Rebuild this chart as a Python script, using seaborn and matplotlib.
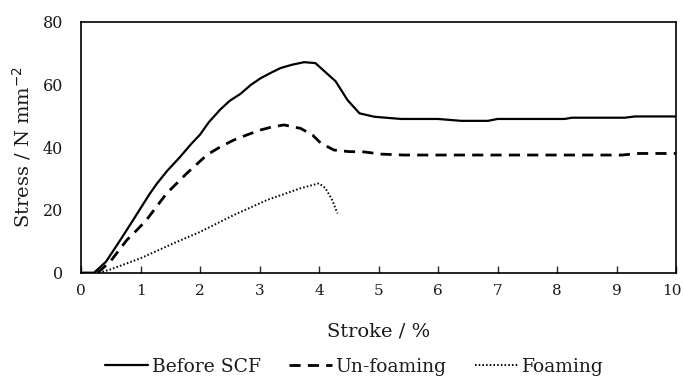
import pandas as pd
import seaborn as sns
import matplotlib.pyplot as plt
from matplotlib.transforms import ScaledTranslation

# curves (stroke %, stress N/mm2)
before_x = [0, 0.22, 0.42, 0.66, 0.85, 1.0, 1.15, 1.28, 1.45, 1.67, 1.85, 2.0, 2.15, 2.34,
            2.5, 2.68, 2.85, 3.02, 3.2, 3.35, 3.55, 3.75, 3.94, 4.08, 4.28, 4.48, 4.68,
            4.93, 5.38, 6.0, 6.39, 6.84, 7.0, 8.13, 8.25, 9.14, 9.31, 10.0]
before_y = [0, 0, 3.5, 10.4, 16, 20.5, 25, 28.5, 32.5, 37, 41, 44, 48, 52,
            54.8, 57, 59.8, 62, 63.8, 65.2, 66.3, 67.1, 66.8, 64.4, 61, 55, 50.8,
            49.7, 49, 49, 48.4, 48.4, 49, 49, 49.4, 49.4, 49.8, 49.8]

unfoam_x = [0.28, 0.49, 0.77, 0.95, 1.1, 1.44, 1.78, 2.12, 2.35, 2.57, 2.8, 3.02, 3.2, 3.41,
            3.69, 3.89, 4.03, 4.25, 4.5, 4.76, 5.04, 5.43, 9.09, 9.37, 10.0]
unfoam_y = [0, 3.5, 10.4, 13.8, 16.8, 25.3, 31.7, 37.6, 40.2, 42.3, 44, 45.5, 46.4, 47.1,
            46, 43.9, 41.3, 39.1, 38.6, 38.5, 37.8, 37.5, 37.5, 38, 38]

foam_x = [0.3, 0.49, 1.0, 1.56, 2.0, 2.57, 3.13, 3.69, 4.0, 4.11, 4.22, 4.31]
foam_y = [0, 1, 4.6, 9.4, 13, 18.4, 23.2, 26.9, 28.5, 26.9, 23.2, 18.9]

labels = ["Before SCF", "Un-foaming", "Foaming"]
x_ticks = list(range(0, 11))
y_ticks = [0, 20, 40, 60, 80]

sns.set_style("ticks")
plt.rcParams['font.family'] = ['DejaVu Serif']
txt = '#1a1a1a'

fig = plt.figure(figsize=(6.84, 3.76), dpi=100)
ax = fig.add_axes([81 / 684, 1 - 272.7 / 376, 595 / 684, 251 / 376])

sns.lineplot(x=before_x, y=before_y, ax=ax, color='black', lw=1.6, label=labels[0])
sns.lineplot(x=unfoam_x, y=unfoam_y, ax=ax, color='black', lw=2.0,
             linestyle=(0, (4, 2.6)), label=labels[1])
sns.lineplot(x=foam_x, y=foam_y, ax=ax, color='black', lw=1.4,
             linestyle=(0, (0.8, 1.1)), label=labels[2])

ax.set_xlim(0, 10)
ax.set_ylim(0, 80)
ax.set_xticks(x_ticks)
ax.set_yticks(y_ticks)
ax.tick_params(axis='x', direction='in', length=5, width=1, pad=8, labelsize=11, labelcolor=txt)
ax.tick_params(axis='y', length=0, pad=13, labelsize=11.5, labelcolor=txt)
for s in ax.spines.values():
    s.set_linewidth(1.2)
    s.set_color('black')

# "10" sits right on the figure edge, nudge it in a little
last = ax.get_xticklabels()[-1]
last.set_transform(last.get_transform() + ScaledTranslation(-3 / 72, 0, fig.dpi_scale_trans))

ax.set_xlabel("Stroke / %", fontsize=14, color=txt)
ax.xaxis.set_label_coords(0.5, -0.2)
ax.set_ylabel("Stress / N mm$^{-2}$", fontsize=14, color=txt)
ax.yaxis.set_label_coords(-0.08, 0.5)

handles, labs = ax.get_legend_handles_labels()
ax.get_legend().remove()
fig.legend(handles, labs, loc='center', bbox_to_anchor=(354 / 684, 1 - 367 / 376),
           ncol=3, frameon=False, fontsize=13.5, handlelength=2.3, handletextpad=0.2,
           columnspacing=1.5, labelcolor=txt)

fig.savefig("out.png", dpi=100)
